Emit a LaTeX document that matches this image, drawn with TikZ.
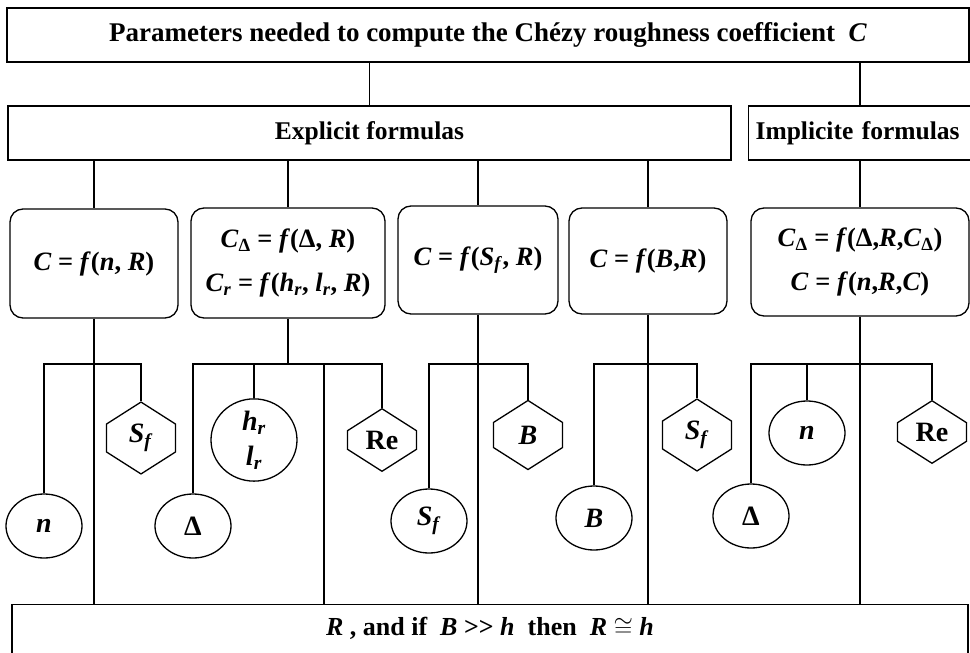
\documentclass[tikz,border=0pt]{standalone}
\usepackage{fontspec}
\setmainfont{Liberation Serif}
\usetikzlibrary{shapes.geometric, shapes.symbols}
\newcommand{\mi}[1]{\textbf{\textit{#1}}}
\newcommand{\sub}[1]{\textsubscript{\textbf{\textit{#1}}}}

\begin{document}
\begin{tikzpicture}[x=1pt, y=-1pt, line width=1.3pt,
	headbox/.style={draw, inner sep=0pt, minimum height=54pt, font=\fontsize{25.5}{28}\selectfont\bfseries},
	formbox/.style={draw, rounded corners=13pt, inner sep=0pt, align=center, font=\fontsize{26.5}{44}\selectfont\bfseries},
	parcirc/.style={draw, ellipse, inner sep=0pt, minimum width=76pt, minimum height=64pt, align=center, font=\fontsize{28}{35}\selectfont\bfseries},
	parhex/.style={draw, signal, signal to=north and south, signal pointer angle=115, inner sep=0pt, minimum width=69pt, minimum height=37pt, font=\fontsize{28}{30}\selectfont\bfseries}]
	\useasboundingbox (0,0) rectangle (970,653);
	% Headings:
	\node[headbox, minimum width=962pt, font=\fontsize{27}{30}\selectfont\bfseries] (param) at (488,35) {Parameters needed to compute the Chézy roughness coefficient \ \mi{C}};
	\node[headbox, minimum width=723pt] (expl) at (369.5,133) {Explicit formulas};
	\node[headbox, anchor=west, text width=240pt, inner xsep=7pt, align=left] (impl) at (748,133) {Implicite formulas};
	% Formulas:
	\node[formbox, minimum width=168pt, minimum height=109pt] (f1) at (94,263.5) {\mi{C} = \mi{f}(\mi{n}, \mi{R})};
	\node[formbox, minimum width=194pt, minimum height=110pt] (f2) at (288,263) {\mi{C}\textsubscript{Δ} = \mi{f}(Δ, \mi{R})\\ \mi{C}\sub{r} = \mi{f}(\mi{h}\sub{r}, \mi{l}\sub{r}, \mi{R})};
	\node[formbox, minimum width=160pt, minimum height=108pt] (f3) at (478,260) {\mi{C} = \mi{f}(\mi{S}\sub{f}, \mi{R})};
	\node[formbox, minimum width=158pt, minimum height=106pt] (f4) at (648,261) {\mi{C} = \mi{f}(\mi{B},\mi{R})};
	\node[formbox, minimum width=218pt, minimum height=108pt] (f5) at (860,262) {\mi{C}\textsubscript{Δ} = \mi{f}(Δ,\mi{R},\mi{C}\textsubscript{Δ})\\ \mi{C} = \mi{f}(\mi{n},\mi{R},\mi{C})};
	% Parameters:
	\node[parcirc] (n1) at (44,526) {\mi{n}};
	\node[parhex] (sf1) at (141,438) {\mi{S}\sub{f}};
	\node[parcirc] (dl2) at (193,526) {Δ};
	\node[parcirc, minimum width=86pt, minimum height=78pt] (hl2) at (254,440) {\mi{h}\sub{r}\\ \mi{l}\sub{r}};
	\node[parhex] (re2) at (382,440) {Re};
	\node[parcirc] (sf3) at (429,521) {\mi{S}\sub{f}};
	\node[parhex] (b3) at (528,435) {\mi{B}};
	\node[parcirc] (b4) at (594,518) {\mi{B}};
	\node[parhex] (sf4) at (697,435) {\mi{S}\sub{f}};
	\node[parcirc] (dl5) at (751,516) {Δ};
	\node[parcirc] (n5) at (807,433) {\mi{n}};
	\node[parhex] (re5) at (932,432) {Re};
	\node[draw, anchor=north, minimum width=956pt, inner sep=0pt, text height=31pt, text depth=40pt, font=\fontsize{26}{28}\selectfont\bfseries] (res) at (490,604) {\mi{R} , and if \ \mi{B} {>}{>} \mi{h} \ then \ \mi{R} $\cong$ \mi{h}};
	% Wires:
	\coordinate (bar) at (0,364);
	\coordinate (j2) at (324,364);
	\draw (param.south -| expl) -- (expl.north);
	\draw (param.south -| f5) -- (impl.north -| f5);
	\draw (impl.south -| f5) -- (f5.north);
	\foreach \f in {f1,f2,f3,f4} \draw (expl.south -| \f) -- (\f.north);
	\foreach \f in {f1,f3,f4,f5} \draw (\f.south) -- (res.north -| \f);
	\draw (f2.south) -- (bar -| f2);
	\draw (j2) -- (j2 |- res.north);
	\draw (n1.north) |- (bar -| f1) -| (sf1.north);
	\draw (dl2.north) |- (bar -| f2) -| (re2.north);
	\draw (hl2.north) -- (hl2.north |- bar);
	\draw (sf3.north) |- (bar -| f3) -| (b3.north);
	\draw (b4.north) |- (bar -| f4) -| (sf4.north);
	\draw (dl5.north) |- (bar -| f5) -| (re5.north);
	\draw (n5.north) -- (n5.north |- bar);
\end{tikzpicture}
\end{document}
